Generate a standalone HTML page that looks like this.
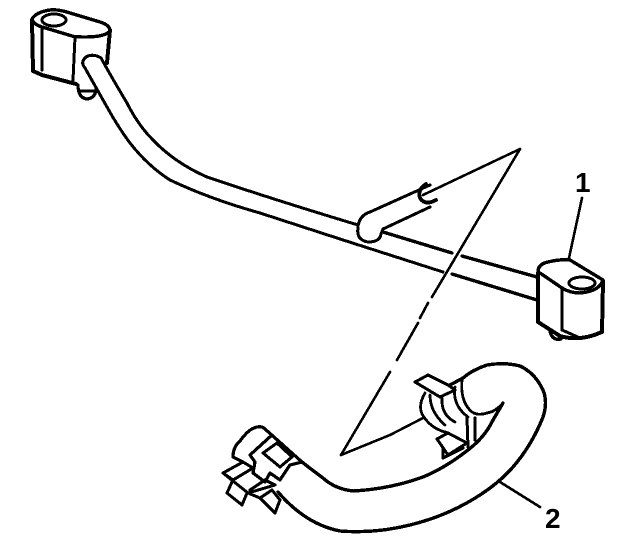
<!DOCTYPE html>
<html><head><meta charset="utf-8">
<style>html,body{margin:0;padding:0;background:#fff;width:640px;height:556px;overflow:hidden}svg{display:block}text{font-family:"Liberation Sans",sans-serif;font-weight:bold;font-size:28px;fill:#000;stroke:none}</style></head>
<body>
<svg width="640" height="556" viewBox="0 0 640 556" fill="none" stroke="#000" stroke-width="3" stroke-linecap="round" stroke-linejoin="round" shape-rendering="crispEdges">
<!-- left block -->
<path stroke-width="3.4" d="M32 19Q36 12 50 10Q58 9 70 13L100 22Q110 25 110 31Q105 37 85 37Q75 37 72 36L42 27Q33 24 32 19Z"/>
<path stroke-width="4" d="M32 20L33 71L42 75L76 84M110 30L107 63"/>
<path d="M42 28V70M75 37L73 80"/>
<ellipse cx="54" cy="20" rx="12" ry="6"/>
<path stroke-width="3.2" d="M78 85Q78 98 87 99Q96 98 96 88M80 91H94"/>
<!-- main tube -->
<path d="M85 68Q80 62 86 57Q93 53 101 58Q112 78 127 103Q138 125 153 140Q175 163 207 177Q275 200 358 225"/>
<path d="M85 68L107 107Q118 127 130 143Q148 166 170 180Q210 199 260 213L340 239L443 272"/>
<path stroke-width="3.4" d="M383 232L452 253M462 256L537 277M452 274L537 300"/>
<!-- branch -->
<path d="M358 226Q360 215 370 212L430 185"/>
<path d="M358 228Q356 240 368 242Q380 242 381 234L383 229L430 207"/>
<path stroke-width="3.8" d="M426 184Q417 190 420 198Q425 206 436 200"/>
<!-- leaders -->
<path stroke-width="2.6" d="M423 195L520 149L432 297M428 303L420 318M418 323L397 360M390 372L341 455L390 435L423 418M582 198L569 258M500 482L540 507"/>
<!-- right block -->
<path stroke-width="3.4" d="M538 272Q538 264 548 262Q560 259 570 260L603 280Q600 291 580 293Q570 293 562 288L540 273"/>
<path stroke-width="4" d="M538 273V322L560 336Q580 342 602 332L603 281"/>
<path d="M562 288V330L580 338"/>
<ellipse cx="582" cy="283" rx="13" ry="6"/>
<path stroke-width="3.2" d="M550 332Q553 341 561 339"/>
<!-- hose -->
<path stroke-width="3.4" d="M278 492Q290 506 303 515Q320 527 340 531Q365 533 390 529Q440 521 480 495Q500 482 513 467Q532 445 543 417Q548 402 543 390Q535 373 520 366Q505 362 487 365Q472 370 463 378L450 385"/>
<path stroke-width="3.4" d="M302 462Q312 470 323 478Q335 489 353 491Q390 489 423 477Q445 468 468 450Q485 437 493 420L503 403"/>
<path stroke-width="2.8" d="M503 403Q495 412 487 413Q478 416 472 412Q460 402 462 380M455 387Q452 405 468 417M442 398Q441 415 455 422M430 395Q430 412 445 425M425 393Q418 405 422 414Q430 428 445 432"/>
<path d="M415 382L428 375L448 385L455 390L440 397L415 382ZM437 439L448 433L467 443L448 455L437 439ZM443 448V458L463 448M467 418L468 447M475 418V440M445 432L448 433"/>
<!-- left clip -->
<path stroke-width="3.2" d="M243 462L233 457Q233 447 240 441Q248 430 254 428Q261 425 265 429L302 462M272 435L250 455L255 462L253 473L265 482L270 473L280 480L290 465L302 462"/>
<path d="M263 453L277 443L292 457L280 467ZM223 473L243 462L253 468L233 480L223 473L248 493L275 485L265 480L250 490M232 482L227 493L242 505L247 493M248 493L260 498L275 513L280 500L272 490M260 498L272 490"/>
<text x="575" y="192">1</text>
<text x="545" y="528">2</text>
</svg>
</body></html>
